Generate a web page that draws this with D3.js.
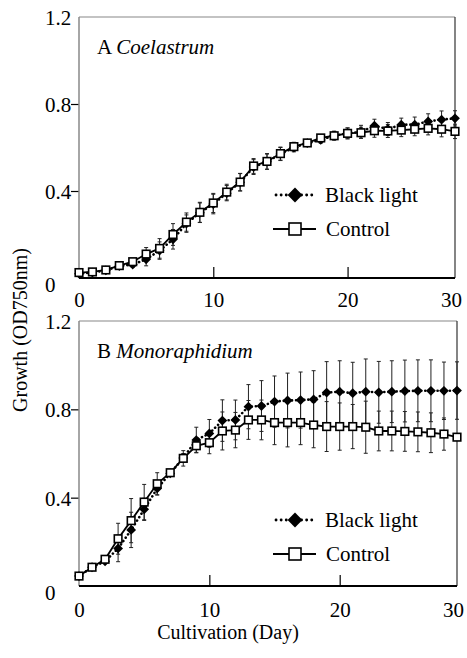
<!DOCTYPE html>
<html>
<head>
<meta charset="utf-8">
<script src="https://cdn.jsdelivr.net/npm/d3@7"></script>
<style>
body{margin:0;background:#fff}
svg text{font-family:"Liberation Serif","Times New Roman",serif !important;fill:#000}
</style>
</head>
<body>
<svg id="chart" width="467" height="658"></svg>
<script>
// data
var yTicks=[0,0.4,0.8,1.2]
var xTicksA=[0,10,20,28], xTicksB=[0,10,20,29]
var xTickLabels=["0","10","20","30"]
var seriesNames=["Black light","Control"]

var daysA=d3.range(0,29)
var blackA=[0.02,0.025,0.035,0.055,0.062,0.086,0.126,0.178,0.25,0.3,0.34,0.39,0.44,0.51,0.535,0.57,0.6,0.62,0.635,0.655,0.665,0.672,0.7,0.685,0.705,0.705,0.72,0.728,0.734]
var blackErrA=[0.005,0.005,0.008,0.01,0.012,0.03,0.04,0.045,0.04,0.045,0.045,0.035,0.04,0.034,0.035,0.03,0.02,0.015,0.015,0.02,0.025,0.03,0.03,0.03,0.03,0.035,0.035,0.04,0.035]
var controlA=[0.025,0.028,0.037,0.057,0.075,0.11,0.136,0.2,0.257,0.302,0.345,0.395,0.441,0.515,0.536,0.572,0.604,0.621,0.644,0.654,0.665,0.668,0.677,0.676,0.68,0.684,0.688,0.684,0.674]
var controlErrA=[0.005,0.005,0.008,0.01,0.012,0.03,0.045,0.05,0.042,0.046,0.044,0.036,0.04,0.034,0.036,0.03,0.02,0.015,0.015,0.02,0.025,0.025,0.03,0.03,0.03,0.03,0.03,0.035,0.033]

var daysB=d3.range(0,30)
var blackB=[0.045,0.085,0.112,0.17,0.254,0.347,0.442,0.51,0.58,0.661,0.691,0.749,0.752,0.812,0.815,0.835,0.84,0.842,0.845,0.876,0.88,0.873,0.88,0.877,0.88,0.883,0.884,0.884,0.884,0.885]
var blackErrB=[0.005,0.008,0.01,0.06,0.08,0.05,0.03,0.01,0.02,0.058,0.063,0.094,0.09,0.1,0.115,0.116,0.124,0.127,0.13,0.14,0.14,0.14,0.148,0.14,0.14,0.14,0.14,0.14,0.13,0.13]
var controlB=[0.045,0.085,0.121,0.214,0.296,0.38,0.463,0.513,0.578,0.635,0.649,0.702,0.706,0.752,0.752,0.74,0.74,0.74,0.729,0.722,0.722,0.722,0.719,0.702,0.702,0.7,0.698,0.694,0.688,0.674]
var controlErrB=[0.005,0.008,0.01,0.07,0.1,0.08,0.05,0.01,0.035,0.03,0.05,0.086,0.08,0.088,0.09,0.1,0.11,0.1,0.103,0.113,0.107,0.1,0.118,0.09,0.09,0.09,0.09,0.09,0.073,0.01]

var svg=d3.select("#chart")

var drawPanel=function(cfg){
  var g=svg.append("g").attr("transform","translate("+cfg.left+","+cfg.top+")")
  var x=d3.scaleLinear().domain([0,cfg.xMax]).range([0,cfg.w])
  var y=d3.scaleLinear().domain([0,1.2]).range([cfg.h,0])

  // y axis, outward ticks, labels left-aligned
  var ya=g.append("g").call(d3.axisLeft(y).tickValues(yTicks).tickSize(8).tickFormat(function(d){return d===0?"0":d3.format(".1f")(d)}))
  ya.select(".domain").remove()
  ya.selectAll(".tick line").attr("stroke","#000").attr("stroke-width",1.2)
    .attr("display",function(d){return (d===0||d===1.2)?"none":null})
  ya.selectAll(".tick text").attr("x",-34).attr("text-anchor","start")
    .attr("dy",function(d){return d===0?"0.62em":"0.35em"})
    .style("font-size","21px")

  // x axis, inward ticks
  var xa=g.append("g").attr("transform","translate(0,"+cfg.h+")")
    .call(d3.axisBottom(x).tickValues(cfg.xTicks).tickSize(-11).tickFormat(function(d,i){return xTickLabels[i]}))
  xa.select(".domain").remove()
  xa.selectAll(".tick line").attr("stroke","#000").attr("stroke-width",1.2)
    .attr("display",function(d,i){return (i===0||i===cfg.xTicks.length-1)?"none":null})
  xa.selectAll(".tick text").attr("y",cfg.labelY).attr("dy",0)
    .attr("dx",function(d,i){return i===cfg.xTicks.length-1?-4:0})
    .style("font-size","21px")

  // frame
  g.append("line").attr("x1",0).attr("x2",cfg.w).attr("y1",0).attr("y2",0).attr("stroke","#888").attr("stroke-width",1.2)
  g.append("line").attr("x1",0).attr("x2",0).attr("y1",0).attr("y2",cfg.h).attr("stroke","#888").attr("stroke-width",1.5)
  g.append("line").attr("x1",cfg.w).attr("x2",cfg.w).attr("y1",0).attr("y2",cfg.h).attr("stroke","#333").attr("stroke-width",1.2)
  g.append("line").attr("x1",0).attr("x2",cfg.w).attr("y1",cfg.h).attr("y2",cfg.h).attr("stroke","#000").attr("stroke-width",2)

  // title
  var t=g.append("text").attr("x",18).attr("y",37).style("font-size","21px")
  t.append("tspan").text(cfg.letter+" ")
  t.append("tspan").style("font-style","italic").text(cfg.genus)

  var blk=cfg.days.map(function(d,i){return {x:d,v:cfg.black[i],e:cfg.blackErr[i]}})
  var ctl=cfg.days.map(function(d,i){return {x:d,v:cfg.control[i],e:cfg.controlErr[i]}})

  // error bars
  ;[blk,ctl].forEach(function(s){
    var eb=g.append("g").attr("stroke","#222").attr("stroke-width",1)
    s.forEach(function(d){
      var xx=x(d.x)
      eb.append("line").attr("x1",xx).attr("x2",xx).attr("y1",y(d.v-d.e)).attr("y2",y(d.v+d.e))
      eb.append("line").attr("x1",xx-2).attr("x2",xx+2).attr("y1",y(d.v-d.e)).attr("y2",y(d.v-d.e))
      eb.append("line").attr("x1",xx-2).attr("x2",xx+2).attr("y1",y(d.v+d.e)).attr("y2",y(d.v+d.e))
    })
  })

  var line=d3.line().x(function(d){return x(d.x)}).y(function(d){return y(d.v)})

  g.append("path").datum(blk).attr("d",line).attr("fill","none").attr("stroke","#000")
    .attr("stroke-width",2.6).attr("stroke-dasharray","0.1 4").attr("stroke-linecap","round")
  g.selectAll(".dia").data(blk).enter().append("path").attr("class","dia")
    .attr("d",d3.symbol().type(d3.symbolSquare).size(48))
    .attr("transform",function(d){return "translate("+x(d.x)+","+y(d.v)+") rotate(45)"})
    .attr("fill","#000")

  g.append("path").datum(ctl).attr("d",line).attr("fill","none").attr("stroke","#000").attr("stroke-width",1.8)
  g.selectAll(".sq").data(ctl).enter().append("rect").attr("class","sq")
    .attr("x",function(d){return x(d.x)-3.8}).attr("y",function(d){return y(d.v)-3.8})
    .attr("width",7.6).attr("height",7.6).attr("fill","#fff").attr("stroke","#000").attr("stroke-width",1.6)

  // legend
  var lg=g.append("g").attr("transform","translate(197,"+cfg.legY+")")
  lg.append("line").attr("x1",0).attr("x2",38).attr("y1",0).attr("y2",0).attr("stroke","#000")
    .attr("stroke-width",2.8).attr("stroke-dasharray","0.1 5").attr("stroke-linecap","round")
  lg.append("path").attr("d",d3.symbol().type(d3.symbolSquare).size(110)).attr("transform","translate(19,0) rotate(45)").attr("fill","#000")
  lg.append("text").attr("x",49).attr("y",7).style("font-size","21px").text(seriesNames[0])
  lg.append("line").attr("x1",-3).attr("x2",40).attr("y1",34).attr("y2",34).attr("stroke","#000").attr("stroke-width",1.8)
  lg.append("rect").attr("x",13).attr("y",28).attr("width",12).attr("height",12).attr("fill","#fff").attr("stroke","#000").attr("stroke-width",1.6)
  lg.append("text").attr("x",50).attr("y",41).style("font-size","21px").text(seriesNames[1])
}

drawPanel({left:79,top:17,w:376,h:261,xMax:28,xTicks:xTicksA,labelY:29,letter:"A",genus:"Coelastrum",legY:178,
  days:daysA,black:blackA,blackErr:blackErrA,control:controlA,controlErr:controlErrA})
drawPanel({left:79,top:321,w:378,h:265,xMax:29,xTicks:xTicksB,labelY:31,letter:"B",genus:"Monoraphidium",legY:199,
  days:daysB,black:blackB,blackErr:blackErrB,control:controlB,controlErr:controlErrB})

svg.append("text").attr("transform","translate(27,330) rotate(-90)").attr("text-anchor","middle")
  .style("font-size","20px").text("Growth (OD750nm)")
svg.append("text").attr("x",228).attr("y",639).attr("text-anchor","middle")
  .style("font-size","20px").text("Cultivation (Day)")
</script>
</body>
</html>
